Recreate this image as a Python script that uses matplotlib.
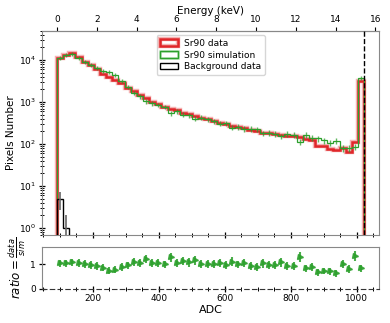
import numpy as np
import matplotlib
matplotlib.use("Agg")
import matplotlib.pyplot as plt
import matplotlib.patheffects as pe
from matplotlib.patches import Patch
from matplotlib.ticker import MultipleLocator, FixedLocator

# ---------------- data ----------------
adc_min, adc_max, n_bins = 92, 1023, 50
sr90_data = [11500, 13500, 15000, 12000, 9000, 7500, 6000, 4700, 3900, 3400,
             2800, 2200, 1800, 1450, 1250, 1000, 880, 760, 700, 640,
             560, 520, 470, 420, 390, 350, 320, 300, 270, 255,
             245, 215, 200, 188, 180, 170, 165, 160, 152, 145,
             135, 125, 90, 88, 76, 74, 80, 64, 115, 3100]
sr90_sim = [11200, 13100, 14000, 11400, 9000, 7800, 6500, 5500, 5300, 4400,
            3150, 2300, 1640, 1380, 1040, 950, 855, 770, 550, 610,
            500, 486, 405, 424, 390, 350, 305, 312, 245, 258,
            233, 234, 225, 183, 188, 177, 154, 174, 165, 112,
            163, 140, 136, 122, 106, 119, 80, 80, 86, 3735]
sim_rel_err = [0.10, 0.10, 0.10, 0.10, 0.10, 0.11, 0.11, 0.11, 0.11, 0.12,
               0.12, 0.12, 0.12, 0.12, 0.12, 0.13, 0.13, 0.13, 0.13, 0.13,
               0.13, 0.13, 0.14, 0.14, 0.14, 0.14, 0.14, 0.14, 0.14, 0.14,
               0.15, 0.15, 0.15, 0.15, 0.15, 0.15, 0.15, 0.15, 0.16, 0.16,
               0.16, 0.16, 0.16, 0.16, 0.17, 0.17, 0.17, 0.17, 0.17, 0.10]
ratio_err = [0.15, 0.15, 0.15, 0.15, 0.15, 0.15, 0.15, 0.15, 0.14, 0.14,
             0.15, 0.15, 0.16, 0.16, 0.17, 0.16, 0.16, 0.16, 0.19, 0.16,
             0.17, 0.17, 0.18, 0.16, 0.16, 0.16, 0.17, 0.16, 0.17, 0.16,
             0.17, 0.16, 0.16, 0.17, 0.16, 0.16, 0.17, 0.16, 0.16, 0.20,
             0.15, 0.16, 0.13, 0.14, 0.14, 0.13, 0.17, 0.15, 0.21, 0.13]
background = [5, 1] + [0] * 48
energy_ticks = [0, 2, 4, 6, 8, 10, 12, 14, 16]
adc_per_kev = 60.3

# ---------------- figure ----------------
fig = plt.figure(figsize=(3.9, 3.23), dpi=100)
ax = fig.add_axes([0.107, 0.272, 0.866, 0.633])
axr = fig.add_axes([0.107, 0.106, 0.866, 0.128], sharex=ax)

edges = np.linspace(adc_min, adc_max, n_bins + 1)
centers = 0.5 * (edges[:-1] + edges[1:])
data = np.array(sr90_data, float)
sim = np.array(sr90_sim, float)
bkg = np.array(background, float)

red = "#e0262a"
green = "#2ca02c"

ax.set_yscale("log")
ax.stairs(data, edges, baseline=1e-3, color=red, lw=1.8, zorder=3,
          path_effects=[pe.Stroke(linewidth=3.2, foreground="#f4b3b3"), pe.Normal()])
ax.stairs(sim, edges, baseline=1e-3, color=green, lw=0.9, zorder=4)
ax.errorbar(centers, sim, yerr=sim * np.array(sim_rel_err), fmt="none",
            ecolor=green, elinewidth=1.0, alpha=0.75, zorder=4)
ax.stairs(bkg, edges, baseline=1e-3, color="black", lw=1.0, zorder=5)
nz = bkg > 0
bl = np.minimum(np.sqrt(bkg[nz]), bkg[nz] * 0.999)
ax.errorbar(centers[nz], bkg[nz], yerr=[bl, np.sqrt(bkg[nz])], fmt="none",
            ecolor="#666666", elinewidth=1.2, zorder=5)
ax.axvline(adc_max, color="black", ls="--", lw=1.0, zorder=6)

ax.set_xlim(45.5, 1069.5)
ax.set_ylim(0.68, 5e4)
ax.set_ylabel("Pixels Number", fontsize=7.5, labelpad=2)

# energy axis on top
sec = ax.secondary_xaxis("top", functions=(lambda a: (a - adc_min) / adc_per_kev,
                                           lambda e: e * adc_per_kev + adc_min))
sec.xaxis.set_major_locator(FixedLocator(energy_ticks))
sec.tick_params(labelsize=6.5, length=3, width=0.8, pad=1.5, color="black")
sec.set_xlabel("Energy (keV)", fontsize=7.5, labelpad=1)
sec.spines["top"].set_color("#888888")

# legend
handles = [
    Patch(facecolor="none", edgecolor=red, lw=1.8,
          path_effects=[pe.Stroke(linewidth=3.2, foreground="#f4b3b3"), pe.Normal()]),
    Patch(facecolor="none", edgecolor=green, lw=1.0,
          path_effects=[pe.Stroke(linewidth=1.8, foreground="#b5e0b5"), pe.Normal()]),
    Patch(facecolor="none", edgecolor="black", lw=1.0),
]
ax.legend(handles, ["Sr90 data", "Sr90 simulation", "Background data"],
          loc="upper center", fontsize=6.5, frameon=True, borderpad=0.4,
          labelspacing=0.3, handlelength=2.0, handletextpad=0.6)

# ratio panel
ratio = data / sim
axr.errorbar(centers, ratio, yerr=ratio_err, fmt=">", color=green, ms=3.6,
             ecolor=green, elinewidth=1.5, alpha=0.85, capsize=0, zorder=3)
axr.set_ylim(0, 1.68)
axr.set_yticks([0, 1])
axr.set_ylabel(r"$ratio=\frac{data}{sim}$", fontsize=8.5, labelpad=2)
axr.set_xlabel("ADC", fontsize=8, labelpad=1)
axr.spines["bottom"].set_linestyle((0, (4, 3)))
axr.spines["bottom"].set_color("#333333")

for a in (ax, axr):
    for s in ("left", "right", "top"):
        a.spines[s].set_color("#888888")
    a.xaxis.set_major_locator(MultipleLocator(200))
    a.xaxis.set_minor_locator(MultipleLocator(50))
    a.tick_params(which="major", direction="inout", length=5, width=0.9,
                  labelsize=6.5, colors="black", pad=1.5)
    a.tick_params(which="minor", direction="inout", length=3, width=0.7)
ax.spines["bottom"].set_color("#888888")
ax.tick_params(axis="x", labelbottom=False)
ax.tick_params(axis="y", which="minor", length=3)

fig.savefig("out.png", dpi=100)
